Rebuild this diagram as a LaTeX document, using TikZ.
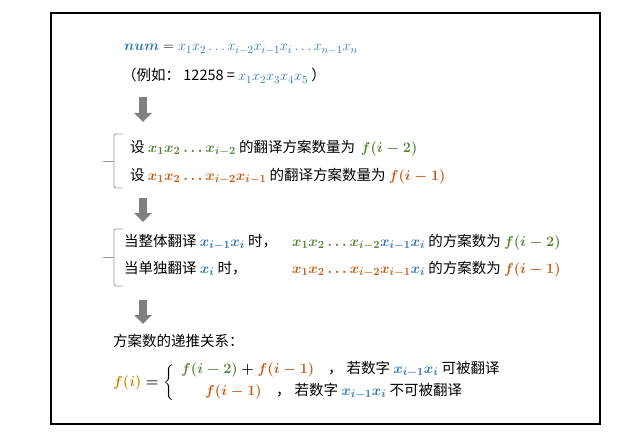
\documentclass[tikz,border=0pt]{standalone}
\usepackage{amsmath, amssymb}
\usepackage[no-math]{fontspec}
\setmainfont{Noto Sans CJK SC}
\DeclareMathSizes{14.5}{14.8}{10.5}{8}
\usepackage{tikz}
\usetikzlibrary{arrows.meta}
\definecolor{NumBlue}{RGB}{46, 117, 182}
\definecolor{CaseGreen}{RGB}{84, 130, 53}
\definecolor{CaseOrange}{RGB}{197, 90, 17}
\definecolor{FuncGold}{RGB}{191, 144, 0}
\definecolor{ArrowGray}{RGB}{128, 128, 128}

\tikzset{
  txt/.style={anchor=base west, inner sep=0pt, font=\fontsize{14.5}{17}\selectfont},
  bld/.style={anchor=base west, inner sep=0pt, font=\fontsize{14.5}{17}\selectfont\boldmath},
  downarrow/.style={draw=ArrowGray, line width=7.5pt, -{Triangle[width=17pt,length=9pt]}},
  bracket/.style={draw=gray!80, line width=0.8pt, rounded corners=1.5pt}
}

\begin{document}
\begin{tikzpicture}[x=1pt, y=-1pt]
    \useasboundingbox (0,0) rectangle (627,444);
    % Frame
    \draw[line width=1.3pt] (51,13) rectangle (600,424);

    % Number
    \node[txt, text=NumBlue] (numline) at (124,51)
      {$\boldsymbol{num}\mathrel{\color{black}=}x_1x_2\ldots x_{i-2}x_{i-1}x_i\ldots x_{n-1}x_n$};
    \node[txt] (example) at (122,81)
      {（例如： 12258 = {\color{NumBlue}$x_1x_2x_3x_4x_5$} ）};

    \coordinate (a1s) at (143,97);
    \coordinate (a1e) at (143,122);
    \draw[downarrow] (a1s) -- (a1e);

    % Sub-problems
    \draw[bracket] (123,134) -- (114,134) -- (114,188) -- (123,188);
    \draw[bracket] (114,161) -- (103,161);
    \node[bld] (set1) at (130,152)
      {设 {\color{CaseGreen}$x_1x_2\ldots x_{i-2}$} 的翻译方案数量为\, {\color{CaseGreen}$f(i-2)$}};
    \node[bld] (set2) at (130,180)
      {设 {\color{CaseOrange}$x_1x_2\ldots x_{i-2}x_{i-1}$} 的翻译方案数量为 {\color{CaseOrange}$f(i-1)$}};

    \coordinate (a2s) at (143,198);
    \coordinate (a2e) at (143,222);
    \draw[downarrow] (a2s) -- (a2e);

    % Two ways
    \draw[bracket] (123,229) -- (114,229) -- (114,286) -- (123,286);
    \draw[bracket] (114,257) -- (103,257);
    \node[bld] (whole) at (124,246)
      {当整体翻译 {\color{NumBlue}$x_{i-1}x_i$} 时，};
    \node[bld] (wholecnt) at (292,246)
      {{\color{CaseGreen}$x_1x_2\ldots x_{i-2}$}{\color{NumBlue}$x_{i-1}x_i$} 的方案数为 {\color{CaseGreen}$f(i-2)$}};
    \node[bld] (single) at (124,273)
      {当单独翻译 {\color{NumBlue}$x_i$} 时，};
    \node[bld] (singlecnt) at (292,273)
      {{\color{CaseOrange}$x_1x_2\ldots x_{i-2}x_{i-1}$}{\color{NumBlue}$x_i$} 的方案数为 {\color{CaseOrange}$f(i-1)$}};

    \coordinate (a3s) at (143,300);
    \coordinate (a3e) at (143,324);
    \draw[downarrow] (a3s) -- (a3e);

    % Recurrence
    \node[txt] (recur) at (113,346) {方案数的递推关系：};
    \node[bld] (fdef) at (113,386)
      {${\color{FuncGold}f(i)}=\left\{\rule[-15pt]{0pt}{34pt}\right.$};
    \node[bld] (case1) at (181,373)
      {${\color{CaseGreen}f(i-2)}+{\color{CaseOrange}f(i-1)}$};
    \node[bld] (cond1) at (328,373)
      {，\;若数字 {\color{NumBlue}$x_{i-1}x_i$} 可被翻译};
    \node[bld] (case2) at (205,395) {${\color{CaseOrange}f(i-1)}$};
    \node[bld] (cond2) at (276,395)
      {，\;若数字 {\color{NumBlue}$x_{i-1}x_i$} 不可被翻译};
\end{tikzpicture}
\end{document}
